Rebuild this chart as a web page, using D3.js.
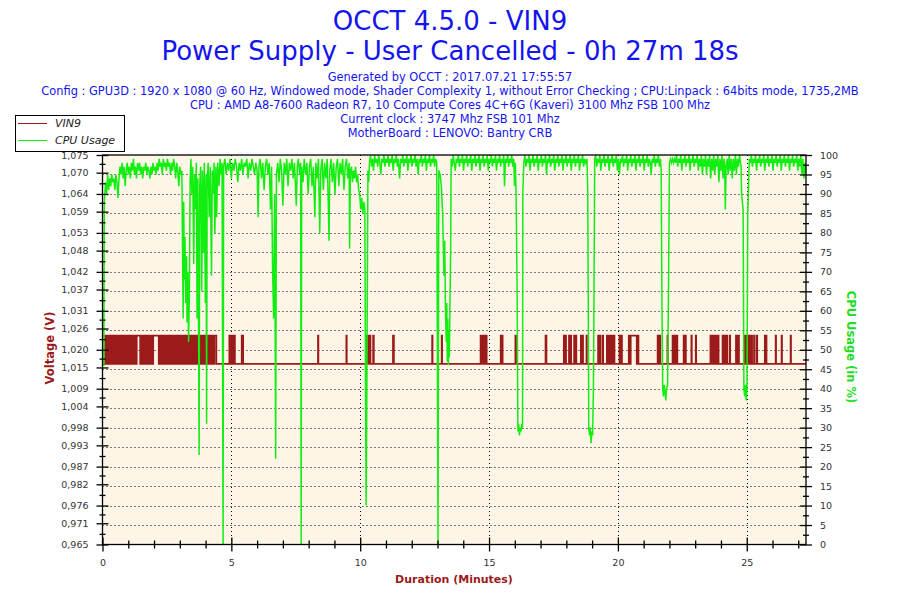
<!DOCTYPE html>
<html>

<head>
  <title>OCCT 4.5.0 - VIN9</title>
</head>

<style>
  body,
  html {
    margin: 0;
    padding: 0;
    background: #fff;
  }

  text {
    font-family: "DejaVu Sans", Verdana, sans-serif;
  }
</style>

<body>

  <svg id="svg" width="900" height="600"></svg>

  <script src="https://d3js.org/d3.v7.min.js"></script>
  <script>

    // chart data
    const titleLines = ['OCCT 4.5.0 - VIN9', 'Power Supply - User Cancelled - 0h 27m 18s']
    const infoLines = [
      'Generated by OCCT : 2017.07.21 17:55:57',
      'Config : GPU3D : 1920 x 1080 @ 60 Hz, Windowed mode, Shader Complexity 1, without Error Checking ; CPU:Linpack : 64bits mode, 1735,2MB',
      'CPU : AMD A8-7600 Radeon R7, 10 Compute Cores 4C+6G (Kaveri) 3100 Mhz FSB 100 Mhz',
      'Current clock : 3747 Mhz FSB 101 Mhz',
      'MotherBoard : LENOVO: Bantry CRB'
    ]
    const seriesNames = ['VIN9', 'CPU Usage']

    const durationMinutes = 27.3
    const minuteTicks = [0, 5, 10, 15, 20, 25]
    const voltageTickLabels = ['0,965', '0,971', '0,976', '0,982', '0,987', '0,993', '0,998', '1,004',
      '1,009', '1,015', '1,020', '1,026', '1,031', '1,037', '1,042', '1,048', '1,053', '1,059',
      '1,064', '1,070', '1,075']
    const cpuTickLabels = [0, 5, 10, 15, 20, 25, 30, 35, 40, 45, 50, 55, 60, 65, 70, 75, 80, 85, 90, 95, 100]

    // VIN9 sits on 1.016 V and jumps to 1.024 V during these spans (minutes)
    const vinLow = 1.016
    const vinHigh = 1.024
    const vinHighSpans = [
      [0.10, 0.13], [0.17, 0.20], [0.23, 0.27], [0.30, 0.33], [0.38, 0.42], [0.45, 0.47], [0.52, 0.56],
      [0.59, 0.62], [0.65, 0.69], [0.72, 0.74], [0.78, 0.84], [0.87, 0.90], [0.93, 0.97], [1.00, 1.03],
      [1.06, 1.10], [1.13, 1.15], [1.19, 1.23], [1.26, 1.30], [1.33, 1.46], [1.50, 1.53], [1.56, 1.59],
      [1.62, 1.66], [1.69, 1.72], [1.76, 1.80], [1.83, 1.87], [1.90, 1.93], [1.97, 2.18], [2.22, 2.25],
      [2.28, 2.31], [2.34, 2.38], [2.41, 2.44], [2.48, 2.52],
      [2.55, 2.58], [2.62, 2.65], [2.68, 2.72], [2.75, 2.80], [2.83, 2.86], [2.90, 2.93], [2.97, 3.00],
      [3.04, 3.07], [3.10, 3.14], [3.18, 3.22], [3.25, 3.28], [3.32, 3.36], [3.40, 3.44], [3.48, 3.50],
      [3.54, 3.58], [3.62, 3.65], [3.69, 3.72], [3.76, 3.80], [3.84, 3.87], [3.91, 3.94], [3.98, 4.02],
      [4.05, 4.09], [4.12, 4.16], [4.20, 4.24], [4.27, 4.31], [4.35, 4.42],
      [4.92, 4.95], [4.98, 5.01], [5.07, 5.09], [5.12, 5.14], [5.40, 5.42], [5.44, 5.46],
      [8.36, 8.38], [9.46, 9.48],
      [10.26, 10.28], [10.31, 10.34], [10.38, 10.40], [10.50, 10.53], [11.27, 11.31], [12.79, 12.81],
      [13.16, 13.18], [14.67, 14.70], [14.73, 14.77], [14.80, 14.83], [14.86, 14.91], [15.45, 15.48],
      [15.50, 15.53], [16.02, 16.05], [17.19, 17.23], [17.90, 17.93], [17.96, 17.99], [18.10, 18.13],
      [18.16, 18.19], [18.30, 18.32], [18.37, 18.39], [18.56, 18.58], [18.62, 18.65], [18.78, 18.80],
      [19.23, 19.25], [19.30, 19.32], [19.40, 19.43], [19.57, 19.60], [19.63, 19.66], [19.69, 19.72],
      [19.75, 19.79], [19.85, 19.87], [20.06, 20.09], [20.13, 20.16], [20.42, 20.46], [20.50, 20.73],
      [20.77, 20.80], [21.54, 21.57], [21.61, 21.65], [21.92, 21.94], [22.12, 22.15], [22.19, 22.22],
      [22.27, 22.31], [22.55, 22.58], [22.61, 22.64], [22.85, 22.87], [23.02, 23.04], [23.59, 23.63],
      [23.66, 23.70], [23.74, 23.77], [23.82, 23.86], [23.88, 23.91], [24.06, 24.09], [24.13, 24.16],
      [24.20, 24.25], [24.34, 24.36], [24.58, 24.61], [24.66, 24.70], [24.90, 24.93], [24.97, 25.00],
      [25.04, 25.07], [25.10, 25.14], [25.18, 25.21], [25.28, 25.30], [25.38, 25.41], [25.70, 25.73],
      [25.75, 25.77], [26.12, 26.14], [26.35, 26.37], [26.70, 26.72]
    ]

    // CPU usage in % : [minute, value]
    const cpuUsage = [
      [0.00, 46], [0.05, 46], [0.07, 88], [0.12, 93], [0.16, 90], [0.20, 95], [0.24, 91], [0.28, 94],
      [0.32, 92], [0.36, 95], [0.40, 93], [0.44, 94], [0.48, 91], [0.52, 95], [0.56, 93], [0.60, 89],
      [0.64, 94], [0.68, 97], [0.72, 95], [0.76, 98], [0.80, 94], [0.84, 97], [0.88, 92], [0.92, 96],
      [0.96, 98], [1.00, 95], [1.04, 97], [1.08, 94], [1.12, 98], [1.16, 96], [1.20, 99], [1.24, 95],
      [1.28, 97], [1.32, 94], [1.36, 98], [1.40, 96], [1.44, 98], [1.48, 95], [1.52, 97], [1.56, 94],
      [1.60, 97], [1.64, 96], [1.68, 98], [1.72, 95], [1.76, 97], [1.80, 96], [1.84, 94], [1.88, 97],
      [1.92, 95], [1.96, 98], [2.00, 96], [2.04, 97], [2.08, 95], [2.12, 98], [2.16, 96], [2.20, 99],
      [2.24, 97], [2.28, 98], [2.32, 95], [2.36, 99], [2.40, 97], [2.44, 98], [2.48, 96], [2.52, 99],
      [2.56, 97], [2.60, 98], [2.64, 95], [2.68, 98], [2.72, 96], [2.76, 99], [2.80, 97], [2.84, 94],
      [2.88, 98], [2.92, 96], [2.96, 92], [3.00, 97], [3.04, 95], [3.08, 96], [3.10, 80], [3.13, 58],
      [3.15, 88], [3.18, 68], [3.20, 79], [3.23, 62], [3.26, 74], [3.28, 57], [3.31, 70], [3.34, 52],
      [3.37, 64], [3.40, 93], [3.43, 99], [3.47, 90], [3.50, 97], [3.54, 72], [3.57, 95], [3.61, 86],
      [3.64, 98], [3.67, 58], [3.70, 94], [3.75, 23], [3.77, 92], [3.81, 97], [3.85, 65], [3.88, 96],
      [3.92, 75], [3.95, 98], [3.99, 62], [4.02, 95], [4.04, 31], [4.06, 93], [4.10, 98], [4.14, 84],
      [4.18, 97], [4.23, 69], [4.26, 96], [4.30, 90], [4.33, 98], [4.36, 80], [4.40, 97], [4.43, 84],
      [4.47, 98], [4.52, 92], [4.56, 99], [4.60, 95], [4.64, 98], [4.68, 0], [4.70, 97], [4.75, 99],
      [4.80, 95], [4.85, 98], [4.90, 96], [4.95, 99], [5.00, 94], [5.05, 98], [5.10, 96], [5.15, 99],
      [5.20, 97], [5.25, 93], [5.30, 98], [5.35, 96], [5.40, 99], [5.45, 95], [5.50, 98], [5.55, 97],
      [5.60, 99], [5.65, 94], [5.70, 98], [5.75, 96], [5.80, 99], [5.85, 97], [5.90, 95], [5.95, 98],
      [6.00, 96], [6.04, 84], [6.07, 97], [6.12, 99], [6.17, 94], [6.22, 98], [6.27, 91], [6.32, 97],
      [6.37, 99], [6.42, 95], [6.47, 98], [6.52, 86], [6.56, 97], [6.60, 71], [6.64, 58], [6.68, 90],
      [6.72, 22], [6.75, 95], [6.80, 98], [6.85, 93], [6.90, 99], [6.95, 96], [7.00, 87], [7.05, 98],
      [7.10, 95], [7.15, 99], [7.20, 92], [7.25, 98], [7.30, 96], [7.35, 99], [7.40, 94], [7.45, 98],
      [7.52, 87], [7.56, 97], [7.60, 99], [7.65, 95], [7.69, 98], [7.71, 0], [7.73, 97], [7.78, 93],
      [7.83, 99], [7.88, 95], [7.93, 98], [7.98, 90], [8.03, 97], [8.08, 99], [8.13, 92], [8.18, 97],
      [8.24, 84], [8.28, 98], [8.33, 94], [8.38, 99], [8.43, 80], [8.47, 96], [8.52, 99], [8.57, 91],
      [8.62, 98], [8.67, 94], [8.72, 99], [8.76, 88], [8.79, 78], [8.82, 96], [8.87, 99], [8.92, 93],
      [8.97, 98], [9.02, 90], [9.07, 97], [9.12, 99], [9.17, 92], [9.22, 98], [9.27, 95], [9.32, 99],
      [9.37, 91], [9.42, 97], [9.47, 99], [9.52, 94], [9.57, 98], [9.59, 76], [9.62, 96], [9.66, 97],
      [9.70, 93], [9.74, 96], [9.78, 94], [9.82, 97], [9.86, 93], [9.90, 95], [9.94, 91], [9.98, 90],
      [10.02, 86], [10.06, 89], [10.10, 85], [10.14, 88], [10.18, 86], [10.21, 35], [10.23, 10],
      [10.25, 30], [10.27, 55], [10.30, 96], [10.33, 93], [10.36, 98], [10.40, 100], [10.44, 97],
      [10.48, 99], [10.52, 96], [10.56, 100], [10.60, 98], [10.64, 99], [10.68, 97], [10.72, 100],
      [10.76, 98], [10.80, 95], [10.84, 99], [10.88, 98], [10.92, 100], [10.96, 97], [11.00, 99],
      [11.04, 98], [11.08, 100], [11.12, 97], [11.16, 99], [11.20, 98], [11.24, 100], [11.28, 96],
      [11.32, 99], [11.36, 98], [11.40, 100], [11.44, 97], [11.48, 99], [11.53, 94], [11.57, 99],
      [11.61, 98], [11.65, 100], [11.69, 97], [11.73, 99], [11.77, 98], [11.81, 100], [11.85, 96],
      [11.89, 99], [11.93, 98], [11.97, 100], [12.01, 97], [12.05, 99], [12.09, 98], [12.13, 100],
      [12.17, 97], [12.21, 99], [12.25, 95], [12.29, 99], [12.33, 98], [12.37, 100], [12.41, 97],
      [12.45, 99], [12.49, 98], [12.53, 100], [12.57, 96], [12.61, 99], [12.65, 98], [12.69, 100],
      [12.73, 97], [12.77, 99], [12.81, 98], [12.85, 100], [12.89, 97], [12.93, 99], [12.97, 98],
      [13.02, 0], [13.05, 96], [13.10, 95], [13.15, 92], [13.20, 85],
      [13.25, 69], [13.28, 78], [13.31, 60], [13.34, 52], [13.36, 62], [13.38, 47], [13.40, 58],
      [13.42, 46], [13.44, 55], [13.46, 48], [13.48, 60], [13.51, 75], [13.53, 99], [13.57, 97],
      [13.61, 100], [13.65, 98], [13.69, 96], [13.73, 99], [13.77, 98], [13.81, 100], [13.85, 97],
      [13.89, 99], [13.93, 98], [13.97, 100], [14.01, 96], [14.05, 99], [14.09, 98], [14.13, 100],
      [14.17, 97], [14.21, 99], [14.25, 98], [14.29, 100], [14.33, 96], [14.37, 99], [14.41, 98],
      [14.45, 100], [14.49, 97], [14.53, 99], [14.57, 98], [14.61, 100], [14.65, 96], [14.69, 99],
      [14.73, 98], [14.77, 100], [14.81, 97], [14.85, 99], [14.89, 98], [14.93, 100], [14.97, 96],
      [15.01, 99], [15.05, 98], [15.09, 100], [15.13, 97], [15.17, 99], [15.21, 98], [15.25, 100],
      [15.29, 96], [15.33, 99], [15.37, 98], [15.41, 100], [15.45, 97], [15.49, 99], [15.53, 98],
      [15.57, 100], [15.60, 92], [15.64, 99], [15.68, 98], [15.72, 100], [15.76, 97], [15.80, 99],
      [15.84, 98], [15.88, 100], [15.92, 97], [15.96, 99], [15.99, 92], [16.02, 98],
      [16.05, 90], [16.09, 65], [16.12, 29], [16.15, 31], [16.18, 28], [16.21, 30], [16.24, 29],
      [16.27, 31], [16.30, 30], [16.31, 90], [16.35, 98], [16.39, 100], [16.43, 97], [16.47, 99],
      [16.51, 98], [16.55, 100], [16.59, 96], [16.63, 99], [16.67, 98], [16.71, 100], [16.75, 97],
      [16.79, 99], [16.83, 98], [16.87, 100], [16.91, 96], [16.95, 99], [16.99, 98], [17.03, 100],
      [17.07, 97], [17.11, 99], [17.15, 98], [17.19, 100], [17.23, 95], [17.27, 99], [17.31, 98],
      [17.35, 100], [17.39, 97], [17.43, 99], [17.47, 98], [17.51, 100], [17.55, 96], [17.59, 99],
      [17.63, 98], [17.67, 100], [17.71, 97], [17.75, 99], [17.79, 98], [17.83, 100], [17.87, 96],
      [17.91, 99], [17.95, 98], [17.99, 100], [18.03, 97], [18.07, 99], [18.11, 98], [18.15, 100],
      [18.19, 96], [18.23, 99], [18.27, 98], [18.31, 100], [18.35, 97], [18.39, 99], [18.43, 98],
      [18.47, 100], [18.51, 96], [18.55, 99], [18.59, 98], [18.63, 100], [18.67, 97], [18.71, 99],
      [18.75, 98], [18.80, 99], [18.83, 91], [18.85, 63], [18.87, 30],
      [18.90, 28], [18.93, 30], [18.96, 26], [18.99, 29], [19.02, 28], [19.05, 40], [19.07, 60],
      [19.10, 99], [19.14, 100], [19.18, 97], [19.22, 99], [19.26, 98], [19.30, 100], [19.34, 96],
      [19.38, 99], [19.42, 98], [19.46, 100], [19.50, 97], [19.54, 99], [19.58, 98], [19.62, 100],
      [19.66, 96], [19.70, 99], [19.74, 98], [19.78, 100], [19.82, 97], [19.86, 99], [19.90, 98],
      [19.94, 100], [19.98, 96], [20.02, 99], [20.06, 95], [20.10, 99], [20.14, 98], [20.18, 100],
      [20.22, 97], [20.26, 99], [20.30, 98], [20.34, 100], [20.38, 96], [20.42, 99], [20.46, 98],
      [20.50, 100], [20.54, 97], [20.58, 99], [20.62, 98], [20.66, 100], [20.70, 96], [20.74, 99],
      [20.78, 98], [20.82, 100], [20.86, 97], [20.90, 99], [20.94, 98], [20.98, 100], [21.02, 96],
      [21.06, 99], [21.10, 98], [21.14, 100], [21.18, 97], [21.22, 99], [21.26, 98], [21.29, 95],
      [21.33, 99], [21.37, 98], [21.41, 100], [21.45, 97], [21.49, 99], [21.53, 98], [21.57, 100],
      [21.61, 97], [21.65, 99], [21.68, 96], [21.71, 62], [21.74, 40], [21.77, 38],
      [21.80, 41], [21.83, 39], [21.86, 37], [21.89, 40], [21.93, 41], [21.97, 70], [22.00, 98],
      [22.04, 99], [22.08, 98], [22.12, 99], [22.16, 98], [22.20, 99], [22.24, 98], [22.28, 100],
      [22.32, 97], [22.36, 99], [22.40, 98], [22.44, 100], [22.48, 96], [22.52, 99], [22.56, 98],
      [22.60, 100], [22.64, 97], [22.68, 99], [22.72, 98], [22.76, 100], [22.80, 96], [22.84, 99],
      [22.88, 98], [22.92, 100], [22.96, 97], [23.00, 99], [23.04, 98], [23.08, 100], [23.12, 96],
      [23.16, 99], [23.20, 97], [23.24, 100], [23.28, 95], [23.32, 99], [23.36, 97], [23.40, 100],
      [23.44, 95], [23.48, 99], [23.52, 97], [23.56, 100], [23.60, 94], [23.64, 99], [23.68, 96],
      [23.72, 100], [23.76, 95], [23.80, 99], [23.84, 97], [23.88, 100], [23.92, 93], [23.96, 99],
      [24.00, 96], [24.04, 100], [24.08, 94], [24.12, 99], [24.14, 98], [24.17, 86], [24.20, 97],
      [24.24, 99], [24.28, 95], [24.32, 100], [24.36, 96], [24.40, 99], [24.44, 94], [24.48, 99],
      [24.52, 96], [24.56, 100], [24.60, 95], [24.64, 99], [24.68, 97], [24.72, 100], [24.76, 98],
      [24.78, 97], [24.80, 90], [24.86, 86], [24.89, 40], [24.92, 38], [24.95, 41], [24.98, 37],
      [25.01, 40], [25.04, 85], [25.10, 99], [25.14, 98], [25.18, 100], [25.22, 97], [25.26, 99],
      [25.30, 98], [25.34, 100], [25.38, 96], [25.42, 99], [25.46, 98], [25.50, 100], [25.54, 97],
      [25.58, 99], [25.62, 98], [25.66, 100], [25.70, 96], [25.74, 99], [25.78, 98], [25.82, 100],
      [25.86, 97], [25.90, 99], [25.94, 98], [25.98, 100], [26.02, 96], [26.06, 99], [26.10, 98],
      [26.14, 100], [26.18, 97], [26.22, 99], [26.26, 98], [26.30, 100], [26.34, 96], [26.38, 99],
      [26.42, 98], [26.46, 100], [26.50, 97], [26.54, 99], [26.58, 98], [26.62, 100], [26.66, 96],
      [26.70, 99], [26.74, 98], [26.78, 100], [26.82, 97], [26.86, 99], [26.90, 98], [26.94, 100],
      [26.98, 96], [27.02, 99], [27.06, 97], [27.10, 100], [27.14, 95], [27.18, 99], [27.22, 94],
      [27.26, 98], [27.30, 95]
    ]

    const blue = '#1414ee'
    const darkRed = '#9b1a1a'
    const green = '#12ee12'

    const svg = d3.select('#svg')
    const plotLeft = 102.5, plotRight = 806, plotTop = 155, plotBottom = 544.5

    const xscale = d3.scaleLinear()
      .domain([0, durationMinutes])
      .range([plotLeft, plotRight])

    const vscale = d3.scaleLinear()
      .domain([0.965, 1.075])
      .range([plotBottom, plotTop])

    const cscale = d3.scaleLinear()
      .domain([0, 100])
      .range([plotBottom, plotTop])

    // titles
    svg.selectAll('.title')
      .data(titleLines)
      .join('text')
      .attr('x', 450)
      .attr('y', (d, i) => 30 + i * 30)
      .attr('text-anchor', 'middle')
      .attr('font-size', 26)
      .attr('fill', blue)
      .text(d => d)

    svg.selectAll('.info')
      .data(infoLines)
      .join('text')
      .attr('x', 450)
      .attr('y', (d, i) => 81 + i * 13.9)
      .attr('text-anchor', 'middle')
      .attr('font-size', 11.4)
      .attr('fill', blue)
      .text(d => d)

    // plot background
    svg.append('rect')
      .attr('x', plotLeft).attr('y', plotTop)
      .attr('width', plotRight - plotLeft).attr('height', plotBottom - plotTop)
      .attr('fill', '#fdf5e6')

    // dotted grid
    const grid = svg.append('g')
      .attr('stroke', '#000')
      .attr('stroke-width', 1)
      .attr('stroke-dasharray', '1,3')
    grid.selectAll('.hg')
      .data(cpuTickLabels.slice(1, -1))
      .join('line')
      .attr('x1', plotLeft).attr('x2', plotRight)
      .attr('y1', d => Math.round(cscale(d)) + 0.5)
      .attr('y2', d => Math.round(cscale(d)) + 0.5)
    grid.selectAll('.vg')
      .data(minuteTicks.slice(1))
      .join('line')
      .attr('y1', plotTop).attr('y2', plotBottom)
      .attr('x1', d => Math.round(xscale(d)) + 0.5)
      .attr('x2', d => Math.round(xscale(d)) + 0.5)

    // series
    svg.append('clipPath').attr('id', 'clip')
      .append('rect')
      .attr('x', plotLeft).attr('y', plotTop - 1)
      .attr('width', plotRight - plotLeft).attr('height', plotBottom - plotTop + 1)
    const plot = svg.append('g').attr('clip-path', 'url(#clip)')

    const vinPoints = [[0, vinLow]]
    vinHighSpans.forEach(s => {
      vinPoints.push([s[0], vinLow], [s[0], vinHigh], [s[1], vinHigh], [s[1], vinLow])
    })
    vinPoints.push([durationMinutes, vinLow])

    const vinLine = d3.line()
      .x(d => xscale(d[0]))
      .y(d => vscale(d[1]))

    plot.append('path')
      .attr('d', vinLine(vinPoints))
      .attr('fill', 'none')
      .attr('stroke', darkRed)
      .attr('stroke-width', 1.6)

    const cpuLine = d3.line()
      .x(d => xscale(d[0]))
      .y(d => cscale(d[1]))

    plot.append('path')
      .attr('d', cpuLine(cpuUsage))
      .attr('fill', 'none')
      .attr('stroke', green)
      .attr('stroke-width', 1.5)

    // frame
    svg.append('rect')
      .attr('x', plotLeft).attr('y', plotTop)
      .attr('width', plotRight - plotLeft).attr('height', plotBottom - plotTop)
      .attr('fill', 'none')
      .attr('stroke', '#000')
      .attr('stroke-width', 1.3)

    // axes
    const voltageTicks = voltageTickLabels.map(s => +s.replace(',', '.'))
    const voltageMinor = voltageTicks.slice(1).map((d, i) => (d + voltageTicks[i]) / 2)
    const cpuMinor = cpuTickLabels.slice(1).map(d => d - 2.5)
    const minuteMinor = d3.range(1, 28).filter(d => d % 5 !== 0)

    function styleAxis(g) {
      g.select('.domain').remove()
      g.selectAll('line').attr('stroke', '#000').attr('stroke-width', 1.3)
      g.selectAll('text')
        .attr('fill', '#333')
        .attr('font-family', '"Liberation Sans", Arial, sans-serif')
        .attr('font-size', 9.5)
    }

    const voltageFormat = d => voltageTickLabels[voltageTicks.indexOf(d)]

    function addAxis(axis, tx, ty) {
      svg.append('g').attr('transform', `translate(${tx},${ty})`)
        .call(axis.tickSizeOuter(0))
        .call(styleAxis)
    }

    addAxis(d3.axisLeft(vscale).tickValues(voltageTicks).tickFormat(voltageFormat).tickSize(6).tickPadding(8), plotLeft, 0)
    addAxis(d3.axisLeft(vscale).tickValues(voltageTicks).tickFormat('').tickSize(-6), plotLeft, 0)
    addAxis(d3.axisLeft(vscale).tickValues(voltageMinor).tickFormat('').tickSize(3), plotLeft, 0)
    addAxis(d3.axisLeft(vscale).tickValues(voltageMinor).tickFormat('').tickSize(-3), plotLeft, 0)

    addAxis(d3.axisRight(cscale).tickValues(cpuTickLabels).tickSize(6).tickPadding(8), plotRight, 0)
    addAxis(d3.axisRight(cscale).tickValues(cpuTickLabels).tickFormat('').tickSize(-6), plotRight, 0)
    addAxis(d3.axisRight(cscale).tickValues(cpuMinor).tickFormat('').tickSize(3), plotRight, 0)
    addAxis(d3.axisRight(cscale).tickValues(cpuMinor).tickFormat('').tickSize(-3), plotRight, 0)

    addAxis(d3.axisBottom(xscale).tickValues(minuteTicks).tickSize(7).tickPadding(8), 0, plotBottom)
    addAxis(d3.axisBottom(xscale).tickValues(minuteTicks).tickFormat('').tickSize(-7), 0, plotBottom)
    addAxis(d3.axisBottom(xscale).tickValues(minuteMinor).tickFormat('').tickSize(4), 0, plotBottom)
    addAxis(d3.axisBottom(xscale).tickValues(minuteMinor).tickFormat('').tickSize(-4), 0, plotBottom)

    // axis titles
    svg.append('text')
      .attr('transform', 'translate(54,348) rotate(-90)')
      .attr('text-anchor', 'middle')
      .attr('font-size', 11.5)
      .attr('font-weight', 'bold')
      .attr('fill', darkRed)
      .text('Voltage (V)')

    svg.append('text')
      .attr('transform', 'translate(847,347) rotate(90)')
      .attr('text-anchor', 'middle')
      .attr('font-size', 11.5)
      .attr('font-weight', 'bold')
      .attr('fill', '#22dd22')
      .text('CPU Usage (in %)')

    svg.append('text')
      .attr('x', 454)
      .attr('y', 583)
      .attr('text-anchor', 'middle')
      .attr('font-size', 11)
      .attr('font-weight', 'bold')
      .attr('fill', darkRed)
      .text('Duration (Minutes)')

    // legend
    const legend = svg.append('g')
    legend.append('rect')
      .attr('x', 15.5).attr('y', 115.5)
      .attr('width', 109).attr('height', 36)
      .attr('fill', '#fff')
      .attr('stroke', '#000')
    legend.selectAll('line')
      .data(seriesNames)
      .join('line')
      .attr('x1', 18).attr('x2', 47)
      .attr('y1', (d, i) => 123.5 + i * 17)
      .attr('y2', (d, i) => 123.5 + i * 17)
      .attr('stroke', (d, i) => i === 0 ? darkRed : green)
      .attr('stroke-width', 1)
    legend.selectAll('text')
      .data(seriesNames)
      .join('text')
      .attr('x', 55)
      .attr('y', (d, i) => 127 + i * 17)
      .attr('font-size', 11)
      .attr('font-style', 'italic')
      .attr('fill', '#222')
      .text(d => d)

  </script>

</body>

</html>
